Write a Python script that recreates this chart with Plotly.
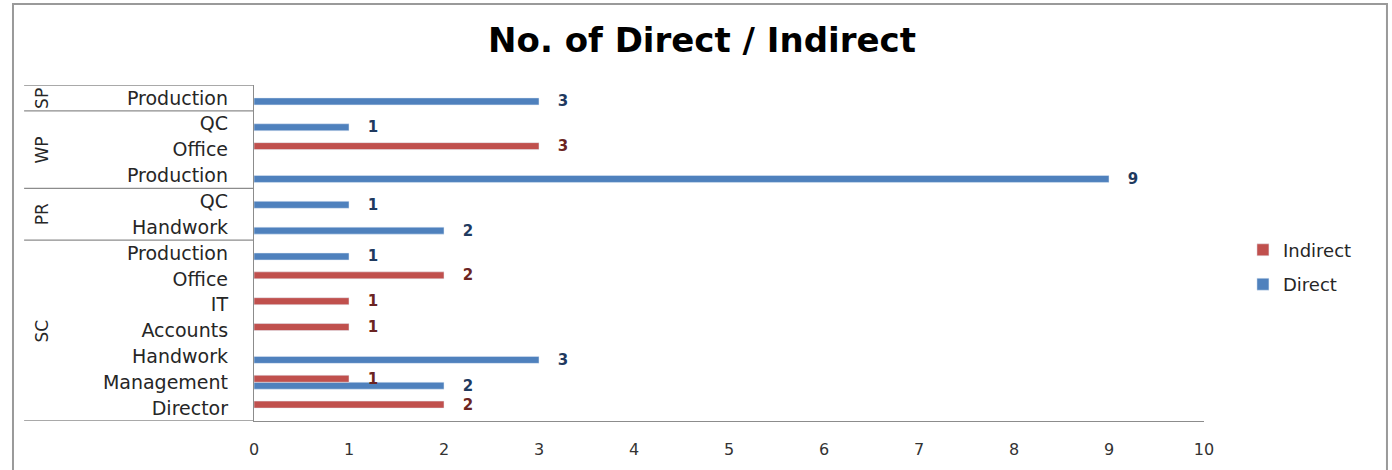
import plotly.graph_objects as go

# ---- data (bottom-to-top order, as in the source sheet) ----
groups = ["SC", "SC", "SC", "SC", "SC", "SC", "SC", "PR", "PR", "WP", "WP", "WP", "SP"]
categories = ["Director", "Management", "Handwork", "Accounts", "IT", "Office", "Production",
              "Handwork", "QC", "Production", "Office", "QC", "Production"]
direct = [None, 2, 3, None, None, None, 1, 2, 1, 9, None, 1, 3]
indirect = [2, 1, None, 1, 1, 2, None, None, None, None, 3, None, None]
x_ticks = [0, 1, 2, 3, 4, 5, 6, 7, 8, 9, 10]
title_text = "No. of Direct / Indirect"

BLUE = "#4F81BD"
RED = "#C0504D"
FONT = "DejaVu Sans"
AXIS = "#8C8C8C"

pos = list(range(len(categories)))

fig = go.Figure()
fig.add_trace(go.Bar(
    name="Direct", y=pos, x=direct, orientation="h", marker_color=BLUE,
    texttemplate="   %{x}", textposition="outside", textangle=0, constraintext="none",
    textfont=dict(family=FONT, size=15, color="#1F3A5F", weight="bold"), cliponaxis=False,
    legendgroup="d", legendrank=2,
))
fig.add_trace(go.Bar(
    name="Indirect", y=pos, x=indirect, orientation="h", marker_color=RED,
    texttemplate="   %{x}", textposition="outside", textangle=0, constraintext="none",
    textfont=dict(family=FONT, size=15, color="#6B2422", weight="bold"), cliponaxis=False,
    legendgroup="i", legendrank=1,
))

# group boundaries and labels, derived from the groups list
shapes = []
annotations = []
LEFT = -0.242
start = 0
bounds = [-0.5]
for i in range(1, len(groups) + 1):
    if i == len(groups) or groups[i] != groups[start]:
        bounds.append(i - 0.5)
        annotations.append(dict(
            x=-0.2232, xref="paper", y=(start + i - 1) / 2, yref="y",
            text=groups[start], textangle=-90, showarrow=False,
            font=dict(family=FONT, size=17, color="#262626"),
            xanchor="center", yanchor="middle",
        ))
        start = i
for b in bounds:
    shapes.append(dict(type="line", xref="paper", yref="y", x0=LEFT, x1=0, y0=b, y1=b,
                       line=dict(color=AXIS, width=1.3)))

# outer chart frame
shapes.append(dict(type="rect", xref="paper", yref="paper",
                   x0=-0.2537, x1=1.1926, y0=-0.2, y1=1.241,
                   line=dict(color="#9A9A9A", width=2), fillcolor="rgba(0,0,0,0)", layer="below"))

fig.update_layout(
    width=1392, height=470,
    margin=dict(l=254, r=188, t=85, b=49),
    paper_bgcolor="white", plot_bgcolor="white",
    barmode="group", bargap=0.46, bargroupgap=0,
    title=dict(text="<b>" + title_text + "</b>", x=702 / 1392, xref="container", xanchor="center",
               y=1 - 40 / 470, yref="container", yanchor="middle",
               font=dict(family=FONT, size=34, color="#000000")),
    xaxis=dict(range=[0, 10], tickvals=x_ticks, showgrid=False, zeroline=False,
               showline=True, linecolor=AXIS, linewidth=1.3,
               ticks="outside", ticklen=14, tickcolor="rgba(0,0,0,0)",
               tickfont=dict(family=FONT, size=16, color="#333333")),
    yaxis=dict(range=[-0.5, len(categories) - 0.5], tickvals=pos, ticktext=categories,
               showgrid=False, zeroline=False, showline=True, linecolor=AXIS, linewidth=1.3,
               ticks="outside", ticklen=21, tickcolor="rgba(0,0,0,0)",
               tickfont=dict(family=FONT, size=19, color="#262626")),
    legend=dict(x=1.041, xanchor="left", y=0.458, yanchor="middle",
                traceorder="grouped", tracegroupgap=8,
                font=dict(family=FONT, size=18, color="#262626"),
                bgcolor="rgba(0,0,0,0)"),
    shapes=shapes,
    annotations=annotations,
    showlegend=True,
)

fig.write_html("out.html", config={"displayModeBar": False},
               post_script="document.body.style.margin='0px';")
